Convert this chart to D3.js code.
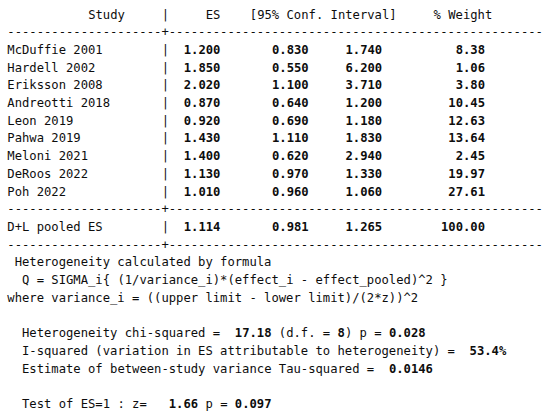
<!DOCTYPE html>
<html><head><meta charset="utf-8">
<script src="https://cdn.jsdelivr.net/npm/d3@7/dist/d3.min.js"></script>
<style>body{margin:0;background:#fff}svg{display:block}
text{font-family:"DejaVu Sans Mono","Liberation Mono",monospace;}</style>
</head><body>
<svg id="chart" width="550" height="418"></svg>
<script>
// ---- data ----
const studies = ["McDuffie 2001","Hardell 2002","Eriksson 2008","Andreotti 2018","Leon 2019","Pahwa 2019","Meloni 2021","DeRoos 2022","Poh 2022"];
const esValues = [1.200,1.850,2.020,0.870,0.920,1.430,1.400,1.130,1.010];
const lowerCI  = [0.830,0.550,1.100,0.640,0.690,1.110,0.620,0.970,0.960];
const upperCI  = [1.740,6.200,3.710,1.200,1.180,1.830,2.940,1.330,1.060];
const weights  = [8.38,1.06,3.80,10.45,12.63,13.64,2.45,19.97,27.61];
const pooledLabel = "D+L pooled ES";
const pooled = [1.114, 0.981, 1.265, 100.00];
const headers = ["Study","ES","[95% Conf. Interval]","% Weight"];
const chi2 = 17.18, df = 8, pHet = 0.028, iSquared = 53.4, tauSquared = 0.0146, zStat = 1.66, pZ = 0.097;

// ---- layout ----
const svg = d3.select("#chart");
const col = d3.scaleLinear().domain([0,1]).range([7.3, 7.3+7.35]);   // character column -> px
const row = d3.scaleLinear().domain([0,1]).range([18.5, 18.5+17.7]); // line index -> baseline px
const f3 = d3.format(".3f"), f2 = d3.format(".2f"), f4 = d3.format(".4f"), f1 = d3.format(".1f");

const g = svg.append("g")
  .attr("font-size","12.2px")
  .attr("fill","#0d0d0d")
  .style("white-space","pre");

function txt(c, line, s, opts={}) {
  return g.append("text")
    .attr("x", col(c)).attr("y", row(line))
    .attr("text-anchor", opts.end ? "end" : "start")
    .attr("font-weight", opts.bold ? "bold" : "normal")
    .attr("xml:space","preserve")
    .text(s);
}
function segLine(c, line, segs) {
  const t = g.append("text").attr("x", col(c)).attr("y", row(line)).attr("xml:space","preserve");
  segs.forEach(([s,b]) => t.append("tspan").attr("font-weight", b ? "bold" : "normal").text(s));
}
const dash = "-".repeat(21) + "+" + "-".repeat(51);

// header
txt(11, 0, headers[0]);
txt(21, 0, "|");
txt(27, 0, headers[1]);
txt(33, 0, headers[2]);
txt(58, 0, headers[3]);
txt(0, 1, dash);

// study rows
studies.forEach((s,i) => {
  const ln = 2 + i;
  txt(0, ln, s);
  txt(21, ln, "|");
  txt(29, ln, f3(esValues[i]), {end:true, bold:true});
  txt(41, ln, f3(lowerCI[i]), {end:true, bold:true});
  txt(51, ln, f3(upperCI[i]), {end:true, bold:true});
  txt(65, ln, f2(weights[i]), {end:true, bold:true});
});
const pl = 2 + studies.length;
txt(0, pl, dash);
txt(0, pl+1, pooledLabel);
txt(21, pl+1, "|");
txt(29, pl+1, f3(pooled[0]), {end:true, bold:true});
txt(41, pl+1, f3(pooled[1]), {end:true, bold:true});
txt(51, pl+1, f3(pooled[2]), {end:true, bold:true});
txt(65, pl+1, f2(pooled[3]), {end:true, bold:true});
txt(0, pl+2, dash);

// heterogeneity block
const b = pl + 3;
txt(1, b, "Heterogeneity calculated by formula");
txt(2, b+1, "Q = SIGMA_i{ (1/variance_i)*(effect_i - effect_pooled)^2 }");
txt(0, b+2, "where variance_i = ((upper limit - lower limit)/(2*z))^2");
segLine(2, b+4, [["Heterogeneity chi-squared = ",0],[" "+f2(chi2),1],[" (d.f. = ",0],[String(df),1],[") p = ",0],[f3(pHet),1]]);
segLine(2, b+5, [["I-squared (variation in ES attributable to heterogeneity) = ",0],[" "+f1(iSquared)+"%",1]]);
segLine(2, b+6, [["Estimate of between-study variance Tau-squared = ",0],[" "+f4(tauSquared),1]]);
segLine(2, b+8, [["Test of ES=1 : z=",0],["   "+f2(zStat),1],[" p = ",0],[f3(pZ),1]]);
</script>
</body></html>
